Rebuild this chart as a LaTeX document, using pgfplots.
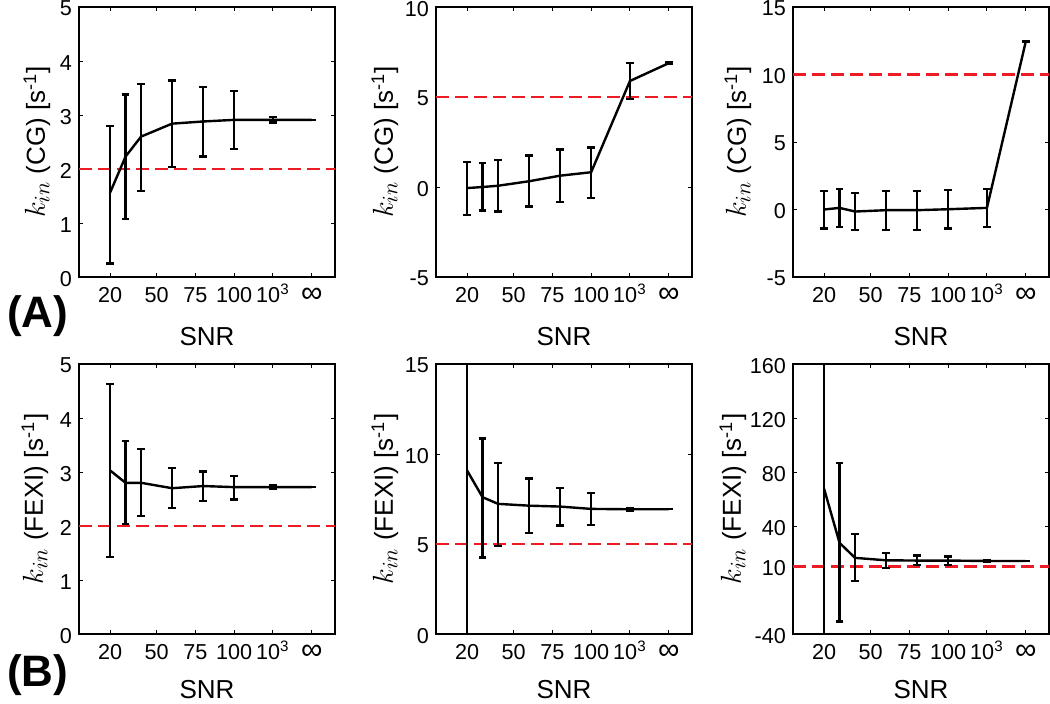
\documentclass[border=0pt]{standalone}
\usepackage{pgfplots}
\pgfplotsset{compat=1.18}
\usepackage{fontspec}
\setmainfont{Liberation Sans}
\definecolor{refred}{RGB}{237,28,36}

\pgfplotsset{
  snr/.style={
    scale only axis, width=128pt, height=135pt,
    anchor=north west,
    xmin=0, xmax=165,
    xtick={20,50,75,100,125,150},
    xticklabels={20,50,75,100,10\textsuperscript{3},{\fontsize{15}{15}\selectfont ∞}},
    tick align=inside, major tick length=2pt,
    tick style={black, line width=0.5pt},
    axis line style={line width=0.6pt},
    ticklabel style={font=\fontsize{10.8}{13}\selectfont},
    xticklabel style={text height=9pt, text depth=0pt},
    yticklabel style={yshift=-0.8pt},
    xlabel={SNR},
    every axis x label/.style={at={(axis description cs:0.5,0)}, anchor=center, yshift=-30pt,
      font=\fontsize{13}{15}\selectfont},
    every axis y label/.style={at={(axis description cs:0,0.5)}, anchor=center, rotate=90,
      font=\fontsize{13}{15}\selectfont},
  },
  kin/.style={black, line width=1.2pt, mark=none,
    error bars/.cd, y dir=both, y explicit,
    error bar style={line width=1.1pt},
    error mark options={line width=1.1pt, mark size=1.9pt, rotate=90}},
  ref/.style={refred, line width=1.3pt, dash pattern=on 6.5pt off 3pt},
}
\newcommand{\kin}{{\fontsize{15}{15}\selectfont$k_{in}$}}

\begin{document}
\begin{tikzpicture}
\path[use as bounding box] (0pt,0pt) rectangle (525pt,-351.5pt);

% (A) row: CG
\begin{axis}[snr, at={(39.5pt,-3.5pt)},
  ymin=0, ymax=5, ytick={0,1,2,3,4,5}, yticklabels={0,1,2,3,4,5},
  ylabel={\kin\ (CG) [s\textsuperscript{-1}]}, ylabel style={yshift=21pt}]
  \addplot[ref] coordinates {(0,2) (165,2)};
  \addplot[kin] coordinates {
    (20,1.56) += (0,1.24) -= (0,1.31)
    (30,2.23) += (0,1.15) -= (0,1.15)
    (40,2.60) += (0,0.98) -= (0,1.00)
    (60,2.84) += (0,0.80) -= (0,0.80)
    (80,2.88) += (0,0.64) -= (0,0.65)
    (100,2.91) += (0,0.53) -= (0,0.54)
    (125,2.91) += (0,0.05) -= (0,0.05)
    (150,2.91) += (0,0) -= (0,0)
  };
\end{axis}

\begin{axis}[snr, at={(218pt,-3.5pt)},
  ymin=-5, ymax=10, ytick={-5,0,5,10}, yticklabels={-5,0,5,10},
  ylabel={\kin\ (CG) [s\textsuperscript{-1}]}, ylabel style={yshift=25.5pt}]
  \addplot[ref] coordinates {(0,5) (165,5)};
  \addplot[kin] coordinates {
    (20,-0.06) += (0,1.45) -= (0,1.48)
    (30,0.00) += (0,1.34) -= (0,1.30)
    (40,0.07) += (0,1.42) -= (0,1.43)
    (60,0.32) += (0,1.43) -= (0,1.40)
    (80,0.63) += (0,1.45) -= (0,1.45)
    (100,0.82) += (0,1.37) -= (0,1.43)
    (125,5.89) += (0,1.02) -= (0,1.02)
    (150,6.88) += (0,0.05) -= (0,0.05)
  };
\end{axis}

\begin{axis}[snr, at={(396.5pt,-3.5pt)},
  ymin=-5, ymax=15, ytick={-5,0,5,10,15}, yticklabels={-5,0,5,10,15},
  ylabel={\kin\ (CG) [s\textsuperscript{-1}]}, ylabel style={yshift=27.5pt}]
  \addplot[ref] coordinates {(0,10) (165,10)};
  \addplot[kin] coordinates {
    (20,0.00) += (0,1.40) -= (0,1.40)
    (30,0.12) += (0,1.40) -= (0,1.42)
    (40,-0.15) += (0,1.39) -= (0,1.39)
    (60,-0.05) += (0,1.41) -= (0,1.44)
    (80,-0.05) += (0,1.41) -= (0,1.44)
    (100,0.02) += (0,1.42) -= (0,1.43)
    (125,0.12) += (0,1.39) -= (0,1.41)
    (150,12.43) += (0,0.05) -= (0,0.05)
  };
\end{axis}

% (B) row: FEXI
\begin{axis}[snr, at={(39.5pt,-182pt)},
  ymin=0, ymax=5, ytick={0,1,2,3,4,5}, yticklabels={0,1,2,3,4,5},
  every axis x label/.append style={yshift=2pt},
  ylabel={\kin\ (FEXI) [s\textsuperscript{-1}]}, ylabel style={yshift=22pt}]
  \addplot[ref] coordinates {(0,2) (165,2)};
  \addplot[kin] coordinates {
    (20,3.03) += (0,1.60) -= (0,1.60)
    (30,2.80) += (0,0.77) -= (0,0.77)
    (40,2.80) += (0,0.63) -= (0,0.62)
    (60,2.70) += (0,0.37) -= (0,0.37)
    (80,2.74) += (0,0.27) -= (0,0.27)
    (100,2.72) += (0,0.21) -= (0,0.23)
    (125,2.72) += (0,0.03) -= (0,0.03)
    (150,2.72) += (0,0) -= (0,0)
  };
\end{axis}

\begin{axis}[snr, at={(218pt,-182pt)},
  ymin=0, ymax=15, ytick={0,5,10,15}, yticklabels={0,5,10,15},
  every axis x label/.append style={yshift=2pt},
  ylabel={\kin\ (FEXI) [s\textsuperscript{-1}]}, ylabel style={yshift=25.5pt}]
  \addplot[ref] coordinates {(0,5) (165,5)};
  \addplot[kin] coordinates {
    (20,9.09) += (0,15) -= (0,15)
    (30,7.60) += (0,3.26) -= (0,3.35)
    (40,7.23) += (0,2.29) -= (0,2.33)
    (60,7.13) += (0,1.51) -= (0,1.51)
    (80,7.08) += (0,1.04) -= (0,1.05)
    (100,6.95) += (0,0.87) -= (0,0.90)
    (125,6.93) += (0,0.07) -= (0,0.07)
    (150,6.93) += (0,0) -= (0,0)
  };
\end{axis}

\begin{axis}[snr, at={(396.5pt,-182pt)},
  ymin=-40, ymax=160, ytick={-40,10,40,80,120,160}, yticklabels={-40,10,40,80,120,160},
  every axis x label/.append style={yshift=2pt},
  ylabel={\kin\ (FEXI) [s\textsuperscript{-1}]}, ylabel style={yshift=30pt}]
  \addplot[ref] coordinates {(0,10) (165,10)};
  \addplot[kin] coordinates {
    (20,67.7) += (0,150) -= (0,150)
    (30,27.5) += (0,59.3) -= (0,58.3)
    (40,16.4) += (0,17.8) -= (0,17.4)
    (60,14.6) += (0,5.3) -= (0,5.7)
    (80,14.4) += (0,3.7) -= (0,3.2)
    (100,14.4) += (0,3.0) -= (0,3.0)
    (125,14.1) += (0,0.5) -= (0,0.5)
    (150,14.1) += (0,0) -= (0,0)
  };
\end{axis}

\node[anchor=west, font=\fontsize{22}{24}\selectfont\bfseries] at (0pt,-158pt) {(A)};
\node[anchor=west, font=\fontsize{22}{24}\selectfont\bfseries] at (0pt,-337.5pt) {(B)};
\end{tikzpicture}
\end{document}
